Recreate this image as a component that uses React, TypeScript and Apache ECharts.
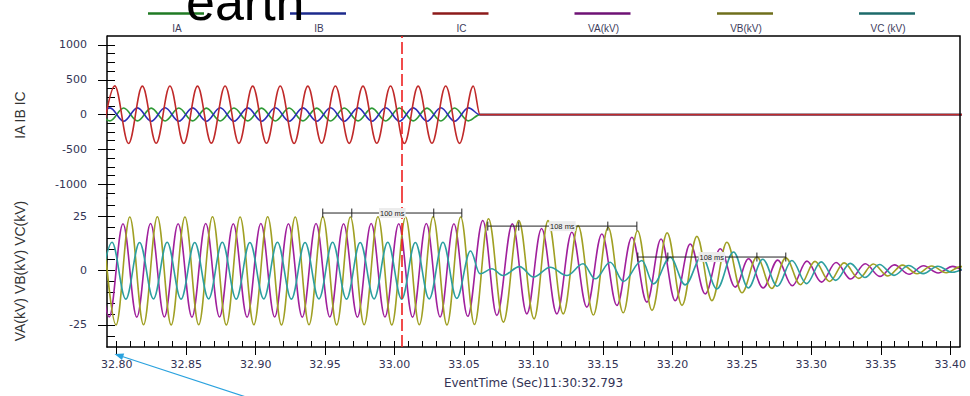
import React, { useEffect, useRef } from "react";
import * as echarts from "echarts";

// ---- time base: sample times are given in ms after T0 (seconds) ----
const T0 = 32.8;
const X_MIN = 32.793;
const X_MAX = 33.407;
const FAULT_TIME = 33.0052;

const X_TICK_LABELS = ["32.80", "32.85", "32.90", "32.95", "33.00", "33.05", "33.10", "33.15", "33.20", "33.25", "33.30", "33.35", "33.40"];
const I_TICKS = [-1000, -500, 0, 500, 1000];
const V_TICKS = [-25, 0, 25];
const I_RANGE = [-1197, 1128];
const V_RANGE = [-35.1, 33.3];

const LEGEND_NAMES = ["IA", "IB", "IC", "VA(kV)", "VB(kV)", "VC (kV)"];

// ---- currents (A): [ms after T0, value] at read extremes ----
const IA: number[][] = [
  [-14.85, 92], [-4.9, -90], [5.0, 94], [14.95, -90], [24.85, 93], [34.8, -91], [44.7, 94], [54.65, -90],
  [64.55, 93], [74.5, -91], [84.4, 94], [94.35, -90], [104.25, 93], [114.2, -91], [124.1, 94], [134.05, -90],
  [143.95, 93], [153.9, -91], [163.8, 94], [173.75, -90], [183.65, 93], [193.6, -91], [203.5, 94], [213.45, -90],
  [223.35, 93], [233.3, -91], [243.2, 94], [253.15, -90], [261.5, 0], [620, 0],
];
const IB: number[][] = [
  [-14.85, -96], [-4.9, 97], [5.0, -96], [14.95, 97], [24.85, -95], [34.8, 98], [44.7, -96], [54.65, 97],
  [64.55, -95], [74.5, 98], [84.4, -96], [94.35, 97], [104.25, -95], [114.2, 98], [124.1, -96], [134.05, 97],
  [143.95, -95], [153.9, 98], [163.8, -96], [173.75, 97], [183.65, -95], [193.6, 98], [203.5, -96], [213.45, 97],
  [223.35, -95], [233.3, 98], [243.2, -96], [253.15, 97], [261.5, 0], [620, 0],
];
const IC: number[][] = [
  [-11.35, -410], [-1.4, 412], [8.5, -414], [18.45, 408], [28.4, -412], [38.3, 410], [48.25, -414], [58.15, 408],
  [68.1, -410], [78.0, 410], [87.95, -413], [97.85, 409], [107.8, -411], [117.7, 410], [127.65, -414], [137.55, 408],
  [147.5, -412], [157.4, 410], [167.35, -413], [177.25, 409], [187.2, -411], [197.1, 410], [207.05, -414], [216.95, 408],
  [226.9, -412], [236.8, 410], [246.75, -413], [256.65, 408], [261.5, 0], [620, 0],
];

// ---- voltages (kV): [ms after T0, value] at read extremes ----
const VA: number[][] = [
  [-15.35, 21.5], [-5.4, -21.3], [4.5, 21.5], [14.45, -21.4], [24.35, 21.6], [34.3, -21.3], [44.2, 21.5], [54.15, -21.4],
  [64.05, 21.6], [74.0, -21.3], [83.9, 21.5], [93.85, -21.4], [103.75, 21.6], [113.7, -21.3], [123.6, 21.5], [133.55, -21.4],
  [143.45, 21.6], [153.4, -21.3], [163.3, 21.5], [173.25, -21.4], [183.15, 21.6], [193.1, -21.3], [203.0, 21.5], [212.95, -21.4],
  [222.85, 21.6], [232.8, -21.3], [242.7, 21.5], [252.65, -21.0], [263.5, 23.0], [273.6, -20.6], [284.8, 21.4], [295.2, -19.9],
  [305.8, 19.3], [316.8, -19.9], [327.6, 17.6], [338.4, -16.8], [349.2, 16.8], [360.0, -16.0], [370.8, 15.3], [381.6, -14.5],
  [391.8, 14.5], [402.0, -13.8], [412.8, 12.2], [423.6, -10.7], [434.4, 10.0], [445.2, -7.6], [454.8, 5.4], [465.3, -8.0],
  [475.8, 4.8], [486.3, -7.0], [496.8, 4.3], [507.3, -5.3], [517.8, 3.7], [528.3, -3.9], [538.8, 3.1], [549.3, -2.7],
  [559.8, 2.6], [570.3, -1.7], [580.8, 2.2], [591.3, -1.1], [601.8, 1.9], [612.3, -0.6], [622.8, 1.7],
];
const VB: number[][] = [
  [-10.45, 24.6], [-0.5, -25.0], [9.4, 24.6], [19.3, -24.9], [29.25, 24.7], [39.2, -25.0], [49.1, 24.6], [59.0, -24.9],
  [68.95, 24.7], [78.9, -25.0], [88.8, 24.6], [98.7, -24.9], [108.65, 24.7], [118.6, -25.0], [128.5, 24.6], [138.4, -24.9],
  [148.35, 24.7], [158.3, -25.0], [168.2, 24.6], [178.1, -24.9], [188.05, 24.7], [198.0, -25.0], [207.9, 24.6], [217.8, -24.9],
  [227.75, 24.7], [237.7, -25.0], [247.6, 24.6], [257.5, -24.8], [267.6, 23.8], [278.3, -23.7], [289.4, 23.0], [300.4, -22.2],
  [310.5, 22.9], [321.4, -19.9], [332.1, 20.6], [343.1, -20.4], [353.7, 19.9], [364.6, -19.4], [374.9, 18.3], [385.3, -18.3],
  [396.2, 17.3], [406.9, -16.0], [417.6, 15.7], [428.4, -13.8], [439.2, 13.0], [450.0, -10.2], [460.8, 6.2], [471.5, -8.2],
  [481.6, 5.8], [492.1, -6.5], [502.6, 4.2], [513.1, -5.0], [523.6, 3.5], [534.1, -3.6], [544.6, 3.0], [555.1, -2.5],
  [565.6, 2.5], [576.1, -1.5], [586.6, 2.1], [597.1, -1.0], [607.6, 1.8], [618.1, -0.5],
];
const VC: number[][] = [
  [-13.3, -13.0], [-3.4, 13.0], [6.5, -13.1], [16.45, 12.9], [26.4, -13.0], [36.3, 13.0], [46.25, -13.1], [56.15, 12.9],
  [66.1, -13.0], [76.0, 13.0], [85.95, -13.1], [95.85, 12.9], [105.8, -13.0], [115.7, 13.0], [125.65, -13.1], [135.55, 12.9],
  [145.5, -13.0], [155.4, 13.0], [165.35, -13.1], [175.25, 12.9], [185.2, -13.0], [195.1, 13.0], [205.05, -13.1], [214.95, 12.9],
  [224.9, -13.0], [234.8, 13.0], [244.75, -12.8], [254.65, 9.0], [261.5, -1.5], [270, 0.8], [278, -2.3], [290, 1.8],
  [300, -3.0], [312, 1.5], [324, -2.3], [335.7, 3.1], [344.4, -3.8], [355.2, 3.8], [364.8, -5.0], [378, 4.6],
  [386.4, -6.1], [398.4, 6.1], [409.2, -6.6], [421.2, 6.5], [432, -8.4], [444, 8.5], [454.6, -8.0], [465, 5.2],
  [475.5, -7.2], [486, 4.6], [496.5, -6.0], [507, 4.0], [517.5, -4.5], [528, 3.3], [538.5, -3.2], [549, 2.8],
  [559.5, -2.2], [570, 2.3], [580.5, -1.4], [591, 2.0], [601.5, -0.8], [612, 1.8],
];

// ---- measurement brackets: tick times (ms after T0), level (kV), label ----
const BRACKET_MS = [
  [148.3, 169.2, 228.2, 248.4],
  [267.1, 289.4, 353.5, 374.4],
  [375.1, 396.7, 460.8, 481.6],
];
const BRACKET_LEVEL = [26.4, 20.4, 6.2];
const BRACKET_LABEL = ["100 ms", "108 ms", "108 ms"];

// ---- styling ----
const SERIES_COLORS = ["#2f9a36", "#2b2fb8", "#c02a2a", "#a0209c", "#a0a024", "#2c9fa0"];
const LEGEND_COLORS = ["#1f7a23", "#1c2a8c", "#8c1a1a", "#6e1274", "#6f6f1c", "#1d6a6a"];
const LABEL_COLOR = "#333355";
const TICK_FONT = '"DejaVu Sans", sans-serif';
const SANS = '"Liberation Sans", Arial, sans-serif';

function buildOption() {
  const xMajor = X_TICK_LABELS.map(Number);
  const xMinor: number[] = [];
  for (let i = 0; i <= 60; i++) xMinor.push(+(32.8 + i * 0.01).toFixed(2));
  const iMinor: number[] = [];
  for (let v = -1125; v <= 1000; v += 125) iMinor.push(v);
  const vMinor: number[] = [];
  for (let v = -30; v <= 30; v += 5) vMinor.push(v);

  const toXY = (arr: number[][]) => arr.map(([ms, v]) => [T0 + ms / 1000, v]);
  const axisLineStyle = { color: "#000", width: 1.5 };
  const tickStyle = { color: "#000", width: 1 };

  const line = (idx: number, data: number[][], xi: number, yi: number, extra: any = {}) => ({
    name: LEGEND_NAMES[idx],
    type: "line",
    data: toXY(data),
    xAxisIndex: xi,
    yAxisIndex: yi,
    showSymbol: false,
    symbol: "none",
    smooth: 0.36,
    smoothMonotone: "x",
    silent: true,
    clip: true,
    lineStyle: { color: SERIES_COLORS[idx], width: 1.6 },
    itemStyle: { color: SERIES_COLORS[idx] },
    ...extra,
  });

  const faultMark = {
    silent: true,
    symbol: "none",
    precision: 5,
    label: { show: false },
    lineStyle: { color: "#ee2020", width: 1.6, type: [12, 4] },
    data: [{ xAxis: FAULT_TIME }],
  };

  const legendX = [148, 290, 432.5, 574.5, 717, 859];
  const graphics: any[] = [];
  LEGEND_NAMES.forEach((n, i) => {
    graphics.push({
      type: "line",
      shape: { x1: legendX[i], y1: 13.5, x2: legendX[i] + 56, y2: 13.5 },
      style: { stroke: LEGEND_COLORS[i], lineWidth: 2.5 },
      z: 5,
    });
    graphics.push({
      type: "text",
      x: legendX[i] + 29,
      y: 28.5,
      style: { text: n, fill: "#3c3c5c", font: `10px ${SANS}`, align: "center", verticalAlign: "middle" },
      z: 5,
    });
  });
  graphics.push({
    type: "text",
    x: 186,
    y: 1.5,
    style: { text: "earth", fill: "#000", font: `52px ${SANS}`, align: "left", verticalAlign: "middle" },
    z: 20,
  });
  // frame top & right
  graphics.push({
    type: "polyline",
    shape: { points: [[107, 36], [960, 36], [960, 347]] },
    style: { stroke: "#000", lineWidth: 1.5, fill: "none" },
    z: 4,
  });
  // axis names
  graphics.push({
    type: "text", x: 20, y: 115, rotation: Math.PI / 2,
    style: { text: "IA IB IC", fill: "#333", font: `14px ${SANS}`, align: "center", verticalAlign: "middle" },
  });
  graphics.push({
    type: "text", x: 20, y: 271, rotation: Math.PI / 2,
    style: { text: "VA(kV) VB(kV) VC(kV)", fill: "#333", font: `14px ${SANS}`, align: "center", verticalAlign: "middle" },
  });
  graphics.push({
    type: "text", x: 533.5, y: 383,
    style: { text: "EventTime (Sec)11:30:32.793", fill: LABEL_COLOR, font: `12px ${TICK_FONT}`, align: "center", verticalAlign: "middle" },
  });
  // annotation arrow
  graphics.push({
    type: "line",
    shape: { x1: 246, y1: 397, x2: 120, y2: 355.8 },
    style: { stroke: "#2aa2de", lineWidth: 1.2 },
    z: 30,
  });
  graphics.push({
    type: "polygon",
    shape: { points: [[114.5, 354], [124.2, 353.4], [122.0, 360.0]] },
    style: { fill: "#2aa2de" },
    z: 30,
  });

  const bracketSeries = {
    type: "custom",
    xAxisIndex: 1,
    yAxisIndex: 2,
    silent: true,
    z: 10,
    clip: false,
    encode: { x: [0, 1, 2, 3], y: 4 },
    data: BRACKET_MS.map((ms, i) => [...ms.map((m) => T0 + m / 1000), BRACKET_LEVEL[i]]),
    renderItem: (params: any, api: any) => {
      const v = api.value(4);
      const pts = [0, 1, 2, 3].map((k) => api.coord([api.value(k), v]));
      const y = pts[0][1];
      const stroke = { stroke: "#222", lineWidth: 1 };
      const children: any[] = [
        { type: "line", shape: { x1: pts[0][0], y1: y, x2: pts[3][0], y2: y }, style: stroke },
      ];
      pts.forEach((p: number[]) =>
        children.push({ type: "line", shape: { x1: p[0], y1: y - 4.5, x2: p[0], y2: y + 4.5 }, style: stroke })
      );
      children.push({
        type: "text",
        x: (pts[0][0] + pts[3][0]) / 2,
        y,
        style: {
          text: BRACKET_LABEL[params.dataIndex],
          fill: "#222",
          font: `7.5px ${SANS}`,
          align: "center",
          verticalAlign: "middle",
          backgroundColor: "#ececec",
          padding: [1, 1],
        },
      });
      return { type: "group", children };
    },
  };

  const plain = (v: number) => String(v);

  return {
    animation: false,
    backgroundColor: "#fff",
    grid: [
      { left: 107, right: 10, top: 36, height: 162 },
      { left: 107, right: 10, top: 198, height: 149 },
    ],
    xAxis: [
      { gridIndex: 0, type: "value", min: X_MIN, max: X_MAX, show: false },
      {
        gridIndex: 1, type: "value", min: X_MIN, max: X_MAX, position: "bottom",
        axisLine: { show: true, onZero: false, lineStyle: axisLineStyle },
        axisTick: { show: true, customValues: xMajor, length: 8, inside: false, lineStyle: tickStyle },
        axisLabel: {
          customValues: xMajor, formatter: (v: number) => v.toFixed(2), margin: 12,
          color: LABEL_COLOR, fontSize: 11, fontFamily: TICK_FONT,
        },
        splitLine: { show: false },
      },
      {
        gridIndex: 1, type: "value", min: X_MIN, max: X_MAX, position: "bottom",
        axisLine: { show: false, onZero: false },
        axisTick: { show: true, customValues: xMinor, length: 6, inside: true, lineStyle: tickStyle },
        axisLabel: { show: false },
        splitLine: { show: false },
      },
    ],
    yAxis: [
      {
        gridIndex: 0, type: "value", min: I_RANGE[0], max: I_RANGE[1], position: "left",
        axisLine: { show: true, onZero: false, lineStyle: axisLineStyle },
        axisTick: { show: true, customValues: I_TICKS, length: 9, inside: false, lineStyle: tickStyle },
        axisLabel: { customValues: I_TICKS, formatter: plain, margin: 20, color: LABEL_COLOR, fontSize: 11, fontFamily: TICK_FONT },
        splitLine: { show: false },
      },
      {
        gridIndex: 0, type: "value", min: I_RANGE[0], max: I_RANGE[1], position: "left",
        axisLine: { show: false, onZero: false },
        axisTick: { show: true, customValues: iMinor, length: 8, inside: true, lineStyle: tickStyle },
        axisLabel: { show: false },
        splitLine: { show: false },
      },
      {
        gridIndex: 1, type: "value", min: V_RANGE[0], max: V_RANGE[1], position: "left",
        axisLine: { show: true, onZero: false, lineStyle: axisLineStyle },
        axisTick: { show: true, customValues: V_TICKS, length: 9, inside: false, lineStyle: tickStyle },
        axisLabel: { customValues: V_TICKS, formatter: plain, margin: 20, color: LABEL_COLOR, fontSize: 11, fontFamily: TICK_FONT },
        splitLine: { show: false },
      },
      {
        gridIndex: 1, type: "value", min: V_RANGE[0], max: V_RANGE[1], position: "left",
        axisLine: { show: false, onZero: false },
        axisTick: { show: true, customValues: vMinor, length: 8, inside: true, lineStyle: tickStyle },
        axisLabel: { show: false },
        splitLine: { show: false },
      },
    ],
    graphic: graphics,
    series: [
      line(0, IA, 0, 0),
      line(1, IB, 0, 0),
      line(2, IC, 0, 0, { markLine: faultMark }),
      line(3, VA, 1, 2),
      line(4, VB, 1, 2),
      line(5, VC, 1, 2, { markLine: faultMark }),
      bracketSeries,
    ],
  };
}

export default function App() {
  const ref = useRef<HTMLDivElement>(null);
  useEffect(() => {
    if (!ref.current) return;
    const chart = echarts.init(ref.current, null, { renderer: "svg" });
    chart.setOption(buildOption() as any);
    return () => chart.dispose();
  }, []);
  return (
    <div
      ref={ref}
      style={{ position: "fixed", left: 0, top: 0, width: 970, height: 396, background: "#fff" }}
    />
  );
}
